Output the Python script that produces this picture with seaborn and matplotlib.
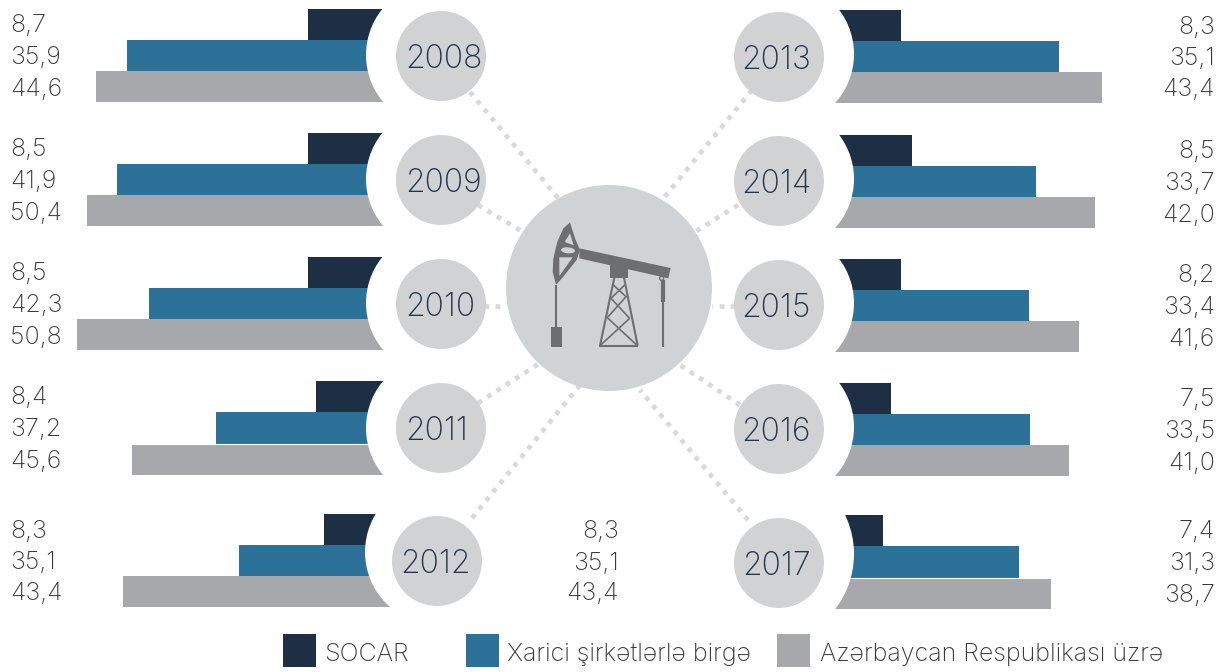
import matplotlib
matplotlib.use("Agg")
import matplotlib.pyplot as plt
from matplotlib.patches import Circle, Polygon, Rectangle, Ellipse
import pandas as pd
import seaborn as sns

sns.set_theme(style="white")
plt.rcParams['font.family'] = ['Inter', 'DejaVu Sans']

W, H = 1222, 672

SERIES = ["SOCAR", "Xarici şirkətlərlə birgə", "Azərbaycan Respublikası üzrə"]
COLORS = ["#1d2f45", "#2c7298", "#a7a8ac"]

# printed numbers
years_left = ["2008", "2009", "2010", "2011", "2012"]
socar_left = ["8,7", "8,5", "8,5", "8,4", "8,3"]
joint_left = ["35,9", "41,9", "42,3", "37,2", "35,1"]
total_left = ["44,6", "50,4", "50,8", "45,6", "43,4"]

years_right = ["2013", "2014", "2015", "2016", "2017"]
socar_right = ["8,3", "8,5", "8,2", "7,5", "7,4"]
joint_right = ["35,1", "33,7", "33,4", "33,5", "31,3"]
total_right = ["43,4", "42,0", "41,6", "41,0", "38,7"]

middle_labels = ["8,3", "35,1", "43,4"]

# bar lengths as drawn, the picture does not scale them to the printed numbers
socar_len_left = [92, 92, 92, 84, 76]
joint_len_left = [273, 283, 251, 184, 161]
total_len_left = [304, 313, 323, 268, 277]

socar_len_right = [81, 92, 81, 71, 63]
joint_len_right = [239, 216, 209, 210, 199]
total_len_right = [282, 275, 259, 249, 231]

# panel layout in pixels
tops_left = [9, 133, 257, 381, 514]
tops_right = [10, 135, 259, 383, 515]
heights_left = [93, 93, 93, 94, 93]
heights_right = [93, 93, 93, 93, 94]
circles_left = [(441, 56), (441, 180), (441, 304), (441, 428), (437, 561)]
circles_right = [(779, 57), (779, 181), (779, 305), (779, 429), (779, 563)]
year_x_left = [405, 405, 405, 405, 400]
year_x_right = [741, 741, 741, 741, 742]
# white cut-outs behind the year circles, (x, y, r)
rings = [
    (439, 55, 73), (439, 179, 73), (439, 303, 73), (439, 428, 73), (438, 552, 73),
    (781, 54, 73), (781, 179, 73), (781, 303, 73), (781, 427, 73), (764, 554, 90),
]
BASE_LEFT, BASE_RIGHT = 400, 820
CENTER = (609, 288)

# dotted spokes, (x0, y0, x1, y1)
spokes = [
    (470, 92, 558, 198), (478, 205, 528, 235), (484, 306, 505, 306),
    (478, 403, 540, 363), (472, 518, 580, 385), (752, 90, 662, 200),
    (738, 205, 695, 232), (735, 306, 712, 306), (740, 405, 680, 365),
    (748, 520, 640, 390),
]

fig = plt.figure(figsize=(W / 100, H / 100), dpi=100, facecolor="white")


def panel_axes(x, top, w, h):
    ax = fig.add_axes([x / W, 1 - (top + h) / H, w / W, h / H], zorder=1)
    ax.patch.set_alpha(0)
    return ax


def draw_panel(x, top, w, h, lengths, flip):
    ax = panel_axes(x, top, w, h)
    df = pd.DataFrame({"series": SERIES, "length": lengths})
    sns.barplot(data=df, y="series", x="length", hue="series", palette=COLORS,
                order=SERIES, hue_order=SERIES, dodge=False, width=1, saturation=1,
                legend=False, linewidth=0, ax=ax)
    ax.set_xlim((w, 0) if flip else (0, w))
    ax.set_ylim(2.5, -0.5)
    ax.axis("off")


for i in range(5):
    draw_panel(0, tops_left[i], BASE_LEFT, heights_left[i],
               [socar_len_left[i], joint_len_left[i], total_len_left[i]], True)
    draw_panel(BASE_RIGHT, tops_right[i], W - BASE_RIGHT, heights_right[i],
               [socar_len_right[i], joint_len_right[i], total_len_right[i]], False)

# overlay in pixel coordinates for circles, icon and text
ov = fig.add_axes([0, 0, 1, 1], zorder=2)
ov.set_xlim(0, W)
ov.set_ylim(H, 0)
ov.axis("off")
ov.patch.set_alpha(0)

for cx, cy, r in rings:
    ov.add_patch(Circle((cx, cy), r, fc="white", ec="none", zorder=1))

# hairline gaps that show in two of the panels
ov.hlines(443.5, 100, 380, color="white", lw=0.8, zorder=1.5)
ov.hlines(577.5, 830, 1060, color="white", lw=0.8, zorder=1.5)

for x0, y0, x1, y1 in spokes:
    ov.plot([x0, x1], [y0, y1], color="#d9d9da", lw=3.4, ls=(0, (1, 1.35)),
            solid_capstyle="butt", dash_capstyle="butt", zorder=2)

for cx, cy in circles_left + circles_right:
    ov.add_patch(Circle((cx, cy), 45, fc="#d1d2d4", ec="none", zorder=3))

BG = "#d0d3d6"
ov.add_patch(Circle(CENTER, 103, fc=BG, ec="none", zorder=3))


# pump icon, points taken from a 3x crop at (480, 170)
def pt(x, y):
    return (480 + x / 3, 170 + y / 3)


ICON = "#6d6e71"


def poly(points, color=ICON):
    ov.add_patch(Polygon([pt(*p) for p in points], closed=True, fc=color, ec="none", zorder=4))


def seg(a, b, lw=1.5):
    ov.plot(*zip(pt(*a), pt(*b)), color=ICON, lw=lw, solid_capstyle="butt", zorder=4)


poly([(270, 157), (250, 175), (232, 215), (220, 265), (218, 305), (228, 345),
      (250, 320), (290, 270), (300, 240), (285, 205)])
poly([(254, 216), (270, 190), (281, 226)], BG)
poly([(238, 262), (278, 262), (238, 318)], BG)
ov.add_patch(Ellipse(pt(264, 241), 14, 6, angle=5, fc=BG, ec="none", zorder=4))
poly([(298, 235), (572, 294), (565, 325), (298, 265)])
poly([(390, 285), (443, 285), (443, 323), (390, 323)])
poly([(213, 470), (245, 470), (245, 530), (213, 530)])
seg((228, 345), (228, 470))
seg((549, 330), (549, 530))
seg((549, 330), (549, 395), 3)
seg((403, 323), (360, 527))
seg((432, 323), (473, 527))
seg((358, 527), (475, 527))
seg((400, 345), (436, 378), 1.2)
seg((434, 345), (393, 385), 1.2)
seg((393, 385), (449, 445), 1.2)
seg((440, 378), (380, 445), 1.2)
seg((384, 445), (470, 525), 1.2)
seg((449, 445), (362, 525), 1.2)
ov.add_patch(Circle(pt(545, 325), 2, fc=BG, ec=ICON, lw=1, zorder=5))

VAL_C = "#3a3a3c"
YEAR_C = "#24364d"
FS = 18
FONT = dict(family=['Inter', 'DejaVu Sans'], fontweight="light")

for i in range(5):
    for j, s in enumerate([socar_left[i], joint_left[i], total_left[i]]):
        ov.text(10, tops_left[i] + 14.5 + 31.5 * j, s, fontsize=FS, color=VAL_C,
                ha="left", va="center_baseline", **FONT)
    for j, s in enumerate([socar_right[i], joint_right[i], total_right[i]]):
        ov.text(1215, tops_right[i] + 14.5 + 31.5 * j, s, fontsize=FS, color=VAL_C,
                ha="right", va="center_baseline", **FONT)
    ov.text(year_x_left[i], circles_left[i][1], years_left[i], fontsize=23, color=YEAR_C,
            ha="left", va="center_baseline", zorder=5, **FONT)
    ov.text(year_x_right[i], circles_right[i][1], years_right[i], fontsize=23, color=YEAR_C,
            ha="left", va="center_baseline", zorder=5, **FONT)

for j, s in enumerate(middle_labels):
    ov.text(619, 529.5 + 31 * j, s, fontsize=FS, color=VAL_C, ha="right",
            va="center_baseline", **FONT)

# legend
legend_box_x = [283, 466, 777]
legend_text_x = [324, 507, 820]
for bx, tx, c, name in zip(legend_box_x, legend_text_x, COLORS, SERIES):
    ov.add_patch(Rectangle((bx, 634), 33, 33, fc=c, ec="none"))
    ov.text(tx, 652, name, fontsize=FS, color=VAL_C, ha="left", va="center_baseline", **FONT)

fig.savefig("out.png", dpi=100)
